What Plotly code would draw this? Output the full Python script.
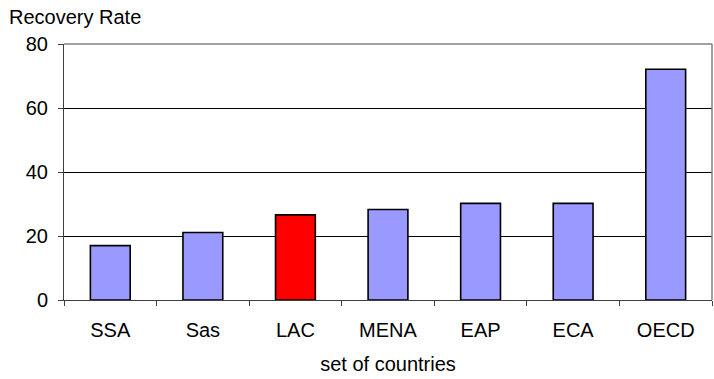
import plotly.graph_objects as go

# Recovery rate by region
regions = ["SSA", "Sas", "LAC", "MENA", "EAP", "ECA", "OECD"]
recovery_rate = [17.0, 21.1, 26.6, 28.3, 30.2, 30.2, 72.1]
highlight = "LAC"
y_ticks = [0, 20, 40, 60, 80]

base_color = "#9999FF"
highlight_color = "#FF0000"
colors = [highlight_color if r == highlight else base_color for r in regions]

font_family = "Liberation Sans, Arial, sans-serif"
fs = 20

fig = go.Figure(
    go.Bar(
        x=regions,
        y=recovery_rate,
        marker=dict(color=colors, line=dict(color="#000000", width=1.6)),
        width=0.43,
    )
)

fig.update_layout(
    width=714,
    height=379,
    margin=dict(l=64, r=2, t=44, b=79),
    paper_bgcolor="white",
    plot_bgcolor="white",
    showlegend=False,
    font=dict(family=font_family, size=fs, color="#000000"),
    xaxis=dict(
        type="category",
        showgrid=False,
        showline=True,
        linecolor="#404040",
        linewidth=1,
        ticks="outside",
        tickson="boundaries",
        ticklen=5,
        tickcolor="#404040",
        tickfont=dict(size=fs),
        ticklabelstandoff=12,
        title=dict(text="set of countries", font=dict(size=fs), standoff=16),
        fixedrange=True,
    ),
    yaxis=dict(
        range=[0, 80],
        tickvals=y_ticks,
        showgrid=True,
        gridcolor="#000000",
        gridwidth=1,
        showline=True,
        linecolor="#404040",
        linewidth=1,
        ticks="outside",
        ticklen=5,
        tickcolor="#404040",
        tickfont=dict(size=fs),
        ticklabelstandoff=6,
        zeroline=False,
        fixedrange=True,
    ),
    annotations=[
        dict(
            text="Recovery Rate",
            xref="paper",
            yref="paper",
            x=-57 / 648,
            y=1.0,
            xanchor="left",
            yanchor="bottom",
            yshift=14,
            showarrow=False,
            font=dict(size=fs),
        )
    ],
    shapes=[
        # grey frame on the top and right edges of the plot area
        dict(type="line", xref="paper", yref="paper", x0=0, x1=1, y0=1, y1=1,
             line=dict(color="#808080", width=1.5)),
        dict(type="line", xref="paper", yref="paper", x0=1, x1=1, y0=0, y1=1,
             line=dict(color="#808080", width=1.5)),
    ],
)

fig.write_html("out.html")
